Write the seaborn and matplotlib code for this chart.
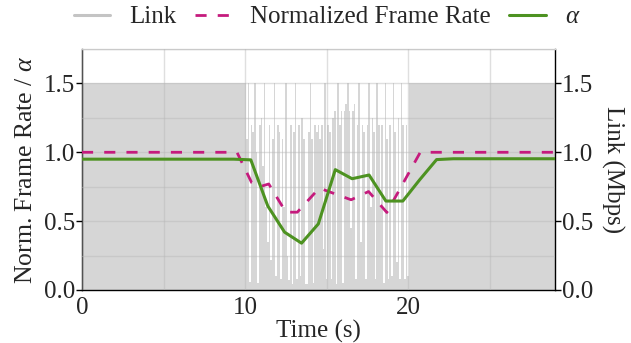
import numpy as np
import pandas as pd
import matplotlib
matplotlib.use("Agg")
import matplotlib.pyplot as plt
from matplotlib.lines import Line2D
from matplotlib.ticker import MultipleLocator
import seaborn as sns

# ---------------- data ----------------
alpha_t = [0.0, 9.3, 10.35, 11.39, 12.42, 13.46, 14.49, 15.53, 16.56, 17.6,
           18.63, 19.67, 20.7, 21.74, 22.77, 29.0]
alpha_v = [0.95, 0.95, 0.945, 0.61, 0.42, 0.34, 0.48, 0.874, 0.808, 0.835,
           0.646, 0.646, 0.80, 0.947, 0.953, 0.953]

fr_t = [0.0, 9.5, 10.4, 10.9, 11.45, 12.5, 13.2, 14.55, 16.5, 17.57, 18.69, 20.74, 29.0]
fr_v = [1.0, 1.0, 0.78, 0.75, 0.77, 0.565, 0.565, 0.74, 0.655, 0.715, 0.563, 1.0, 1.0]

# link samples every 0.1 s from 9.8 s to 20.2 s
link_mid = [
    1.5, 1.5, 1.5, 1.1, 1.5, 0.06, 1.2, 1.15, 1.5, 1.0,
    0.05, 1.2, 1.25, 0.9, 1.5, 0.6, 0.35, 1.2, 0.22, 1.1,
    1.5, 0.1, 1.2, 1.15, 0.08, 1.1, 0.6, 1.5, 0.25, 0.07,
    1.2, 0.04, 1.15, 1.5, 0.08, 1.2, 0.1, 1.25, 1.1, 0.04,
    0.04, 1.15, 1.5, 1.1, 0.05, 1.2, 1.15, 1.2, 1.1, 1.2,
    0.3, 1.5, 0.08, 1.2, 1.15, 0.08, 1.25, 1.3, 0.04, 1.5,
    1.2, 1.3, 0.05, 1.3, 1.35, 1.5, 1.3, 0.45, 1.3, 1.35,
    0.08, 1.2, 1.5, 0.35, 1.2, 1.15, 0.08, 1.2, 1.5, 0.6,
    1.25, 1.15, 0.08, 1.5, 1.2, 0.6, 1.2, 0.05, 1.5, 1.1,
    0.08, 1.2, 0.1, 1.5, 1.15, 0.2, 1.25, 0.08, 1.5, 1.2,
    0.08, 1.2, 0.1, 1.5, 1.5,
]
link_mid_t = list(np.round(9.8 + 0.1 * np.arange(len(link_mid)), 2))
link_t = [0.0] + link_mid_t + [29.0]
link_v = [1.5] + link_mid + [1.5]

x_ticks = [0, 10, 20]
y_ticks = [0.0, 0.5, 1.0, 1.5]

# ---------------- style ----------------
sns.set_theme(style="whitegrid")
plt.rcParams['font.family'] = ['Liberation Serif', 'DejaVu Serif']
plt.rcParams['mathtext.fontset'] = 'custom'
plt.rcParams['mathtext.it'] = 'Liberation Serif:italic'
plt.rcParams['mathtext.rm'] = 'Liberation Serif'

FS = 18
C_LINK_FILL = '#d6d6d6'
C_LINK_LEG = '#c4c4c4'
C_FR = '#c51b7d'
C_ALPHA = '#4d9221'

fig = plt.figure(figsize=(6.31, 3.43), dpi=100)
ax = fig.add_axes([82 / 631, 1 - 290 / 343, (555 - 82) / 631, (290 - 49) / 343])

df_link = pd.DataFrame({'t': link_t, 'v': link_v})
df_fr = pd.DataFrame({'t': fr_t, 'v': fr_v})
df_a = pd.DataFrame({'t': alpha_t, 'v': alpha_v})

ax.fill_between(df_link['t'], 0, df_link['v'], step='mid', color=C_LINK_FILL,
                linewidth=0, zorder=0.3)
sns.lineplot(data=df_fr, x='t', y='v', ax=ax, color=C_FR, linewidth=2.0,
             dashes=False, zorder=3)
ax.lines[-1].set_dashes((4, 4))
sns.lineplot(data=df_a, x='t', y='v', ax=ax, color=C_ALPHA, linewidth=2.2, zorder=4)

ax.set_xlim(0, 29)
ax.set_ylim(0, 1.75)
ax.set_xticks(x_ticks)
ax.set_yticks(y_ticks)
ax.xaxis.set_minor_locator(MultipleLocator(5))
ax.yaxis.set_minor_locator(MultipleLocator(0.25))
ax.set_xticklabels([str(v) for v in x_ticks])
ax.set_yticklabels([f"{v:.1f}" for v in y_ticks])
ax.grid(True, which='both', color='0.72', alpha=0.45, linewidth=1.0, zorder=0.5)
ax.set_axisbelow(False)
for gl in ax.get_xgridlines() + ax.get_ygridlines():
    gl.set_zorder(0.5)
ax.tick_params(axis='both', which='major', labelsize=FS, length=4, width=1,
               color='black', direction='out', pad=1)
ax.tick_params(axis='both', which='minor', length=0)
ax.set_xlabel('Time (s)', fontsize=FS, labelpad=1)
ax.set_ylabel(r'Norm. Frame Rate / $\alpha$', fontsize=18.5, labelpad=5)

for s in ['left', 'bottom', 'right']:
    ax.spines[s].set_color('black')
    ax.spines[s].set_linewidth(1.0)
ax.spines['top'].set_color('0.85')
ax.spines['top'].set_linewidth(1.0)

ax2 = ax.twinx()
ax2.set_ylim(0, 1.75)
ax2.set_yticks(y_ticks)
ax2.set_yticklabels([f"{v:.1f}" for v in y_ticks])
ax2.grid(False)
ax2.tick_params(axis='y', labelsize=FS, length=4, width=1, color='black',
                direction='out', pad=1)
ax2.set_ylabel('Link (Mbps)', fontsize=FS, rotation=270, labelpad=22)
for s in ax2.spines.values():
    s.set_visible(False)

handles = [
    Line2D([], [], color=C_LINK_LEG, linewidth=2.2),
    Line2D([], [], color=C_FR, linewidth=2.0, dashes=(4, 4)),
    Line2D([], [], color=C_ALPHA, linewidth=2.2),
]
labels = ['Link', 'Normalized Frame Rate', r'$\alpha$']
fig.legend(handles, labels, loc='center', bbox_to_anchor=(0.518, 1 - 17 / 343),
           ncol=3, frameon=False, fontsize=FS, handlelength=1.47,
           handletextpad=0.75, columnspacing=0.73, borderpad=0, borderaxespad=0)

fig.savefig('out.png', dpi=100)
